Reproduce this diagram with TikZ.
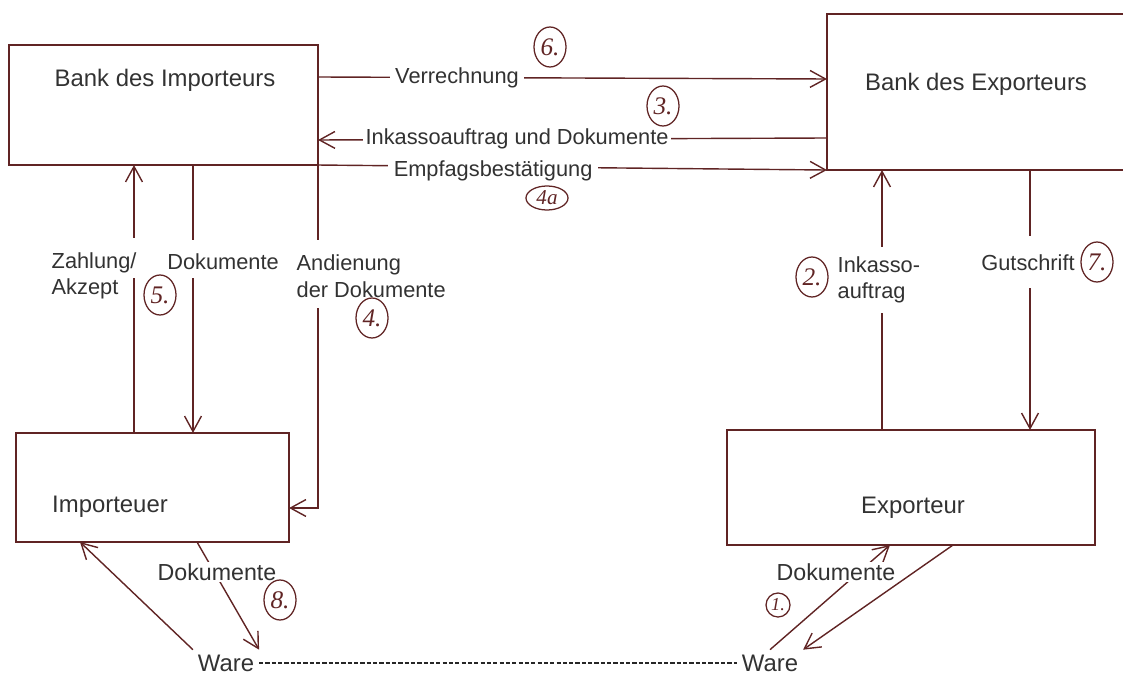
\documentclass[tikz,border=0pt]{standalone}
\usepackage{fontspec}
\setmainfont{Liberation Sans}
\newfontfamily\handfont{Liberation Serif}
\usetikzlibrary{arrows.meta,shapes.geometric}

\definecolor{ink}{RGB}{96,36,36}
\definecolor{txt}{RGB}{50,50,50}

\tikzset{
  box/.style={draw=ink, line width=1pt, outer sep=0pt, inner sep=0pt},
  title/.style={text=txt, font=\fontsize{17}{20}\selectfont},
  lbl/.style={text=txt, font=\fontsize{15.5}{19}\selectfont, inner sep=1pt},
  onlbl/.style={lbl, fill=white, inner xsep=4pt},
  flow/.style={draw=ink, line width=1pt},
  gap/.style={fill=white, inner sep=0pt, minimum width=5pt},
  num/.style={ellipse, draw=ink, line width=0.9pt, text=ink, inner sep=0pt,
    font=\handfont\itshape\fontsize{18}{18}\selectfont,
    minimum width=0.8cm, minimum height=1cm},
}

\begin{document}
\begin{tikzpicture}[x=0.025cm, y=-0.025cm, >={Straight Barb[length=11pt,width=12pt]}]
  \useasboundingbox (0,0) rectangle (1123,675);

  % Boxes
  \node[box, minimum width=7.725cm, minimum height=3cm] (bimp) at (163.5,105) {};
  \node[box, minimum width=7.7cm, minimum height=3.9cm] (bexp) at (981,92) {};
  \node[box, minimum width=6.825cm, minimum height=2.725cm] (imp) at (152.5,487.5) {};
  \node[box, minimum width=9.2cm, minimum height=2.875cm] (exp) at (911,487.5) {};

  % Titles
  \node[title] (tbimp) at (165,80) {Bank des Importeurs};
  \node[title] (tbexp) at (976,84) {Bank des Exporteurs};
  \node[title] (timp) at (110,507) {Importeuer};
  \node[title] (texp) at (913,508) {Exporteur};

  % Between the banks
  \draw[flow, ->] (bimp.east |- 0,77) -- node[onlbl, pos=.273] (verr) {Verrechnung} (bexp.west |- 0,79);
  \draw[flow, ->] (bexp.west |- 0,138) -- node[onlbl, pos=.609, inner xsep=2pt] (inka) {Inkassoauftrag und Dokumente} (bimp.east |- 0,140);
  \draw[flow, ->] (bimp.south east) -- node[onlbl, pos=.344, yshift=-3pt] (empf) {Empfagsbestätigung} (bexp.south west);

  % Importer side
  \draw[flow, ->] (imp.north -| 134,0) -- node[gap, pos=.653, minimum height=1cm] {} (bimp.south -| 134,0);
  \draw[flow, ->] (bimp.south -| 193,0) -- node[gap, pos=.35, minimum height=0.95cm] {} (imp.north -| 193,0);
  \draw[flow, ->] (bimp.south east) |- node[gap, pos=.159, minimum height=1.7cm] {} (imp.east |- 0,508);

  % Exporter side
  \draw[flow, ->] (exp.north -| 882,0) -- node[gap, pos=.577, minimum height=1.65cm] {} (bexp.south -| 882,0);
  \draw[flow, ->] (bexp.south -| 1030,0) -- node[gap, pos=.354, minimum height=1.3cm] {} (exp.north -| 1030,0);

  % Labels
  \node[lbl, anchor=west, align=left] (zahl) at (50,276) {Zahlung/\\Akzept};
  \node[lbl] (doku) at (223,262) {Dokumente};
  \node[lbl, anchor=west, align=left] (andi) at (295,276) {Andienung\\der Dokumente};
  \node[lbl, anchor=west, align=left] (inkb) at (836,280) {Inkasso-\\auftrag};
  \node[lbl] (guts) at (1028,263) {Gutschrift};

  % Goods and documents
  \node[title] (warel) at (226,663) {Ware};
  \node[title] (warer) at (770,663) {Ware};
  \draw[dash pattern=on 3pt off 1.5pt, line width=0.8pt, black!85] (warel.east) -- (warer.west);

  \draw[flow, ->] (warel.north west) -- (imp.south -| 80,0);
  \draw[flow, ->] (imp.south -| 197,0) -- (warel.north east);
  \draw[flow, ->] (warer.north) -- (exp.south -| 890,0);
  \draw[flow, ->] (exp.south -| 953,0) -- (warer.north east);
  \node[onlbl, font=\fontsize{16.5}{19}\selectfont, inner xsep=1pt] (dokl) at (217,572) {Dokumente};
  \node[onlbl, font=\fontsize{16.5}{19}\selectfont, inner xsep=1pt] (dokr) at (836,572) {Dokumente};

  % Step numbers
  \node[num] (n6) at (550,47) {6.};
  \node[num] (n3) at (663,106) {3.};
  \node[num, minimum width=1.05cm, minimum height=0.6cm, font=\handfont\itshape\fontsize{15}{15}\selectfont] (n4a) at (547,198) {4a};
  \node[num] (n5) at (160,295) {5.};
  \node[num] (n4) at (372,318) {4.};
  \node[num] (n2) at (812,277) {2.};
  \node[num] (n7) at (1097,262) {7.};
  \node[num] (n8) at (280,600) {8.};
  \node[num, minimum width=0.6cm, minimum height=0.6cm, font=\handfont\itshape\fontsize{13}{13}\selectfont] (n1) at (778,605) {1.};
\end{tikzpicture}
\end{document}
